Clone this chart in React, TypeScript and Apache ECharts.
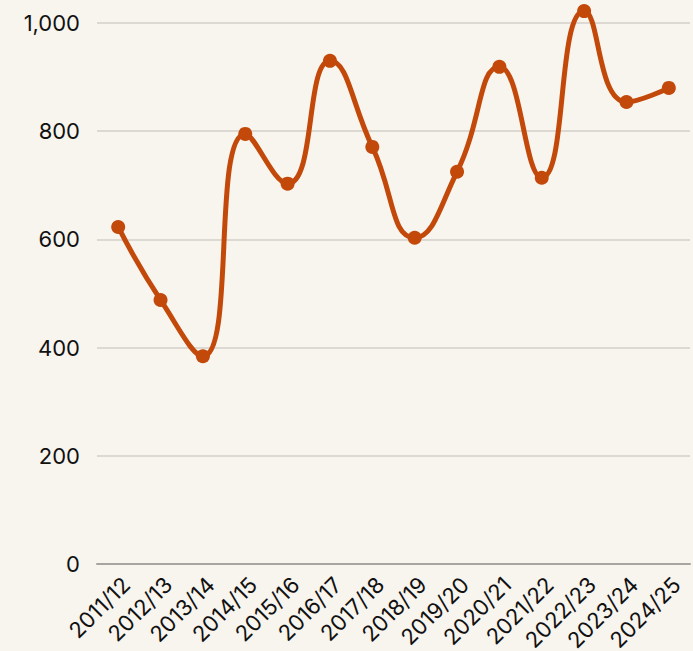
import React, { useEffect, useRef } from "react";
import * as echarts from "echarts";

const categories = ["2011/12","2012/13","2013/14","2014/15","2015/16","2016/17","2017/18","2018/19","2019/20","2020/21","2021/22","2022/23","2023/24","2024/25"];
const values = [623, 488, 384, 795, 703, 930, 771, 603, 725, 919, 714, 1022, 854, 880];
const yTicks = [0, 200, 400, 600, 800, 1000];

export default function App() {
  const ref = useRef<HTMLDivElement>(null);
  useEffect(() => {
    const chart = echarts.init(ref.current!, null, { renderer: "svg" });
    chart.setOption({
      animation: false,
      backgroundColor: "#f8f4ee",
      textStyle: { fontFamily: "Inter" },
      grid: { left: 97, right: 3, top: 23, bottom: 87, outerBoundsMode: "none", containLabel: false },
      xAxis: {
        type: "category",
        data: categories,
        boundaryGap: true,
        axisLine: { lineStyle: { color: "#a8a49f", width: 2 } },
        axisTick: { show: false },
        axisLabel: { rotate: 45, fontSize: 22, color: "#111", margin: 9, interval: 0, verticalAlign: "top" },
      },
      yAxis: {
        type: "value",
        min: 0,
        max: 1000,
        interval: 200,
        axisLine: { show: false },
        axisTick: { show: false },
        splitLine: { lineStyle: { color: "#d3cfc9", width: 1.5 } },
        axisLabel: {
          fontSize: 22,
          color: "#111",
          margin: 17,
          formatter: (v: number) => (yTicks.includes(v) ? v.toLocaleString("en-US") : ""),
        },
      },
      series: [
        {
          type: "line",
          data: values,
          smooth: 0.5,
          clip: false,
          symbol: "circle",
          symbolSize: 14,
          lineStyle: { color: "#c2490a", width: 5 },
          itemStyle: { color: "#c2490a" },
        },
      ],
    });
    return () => chart.dispose();
  }, []);
  return <div ref={ref} style={{ width: 693, height: 651, position: "absolute", left: 0, top: 0 }} />;
}
